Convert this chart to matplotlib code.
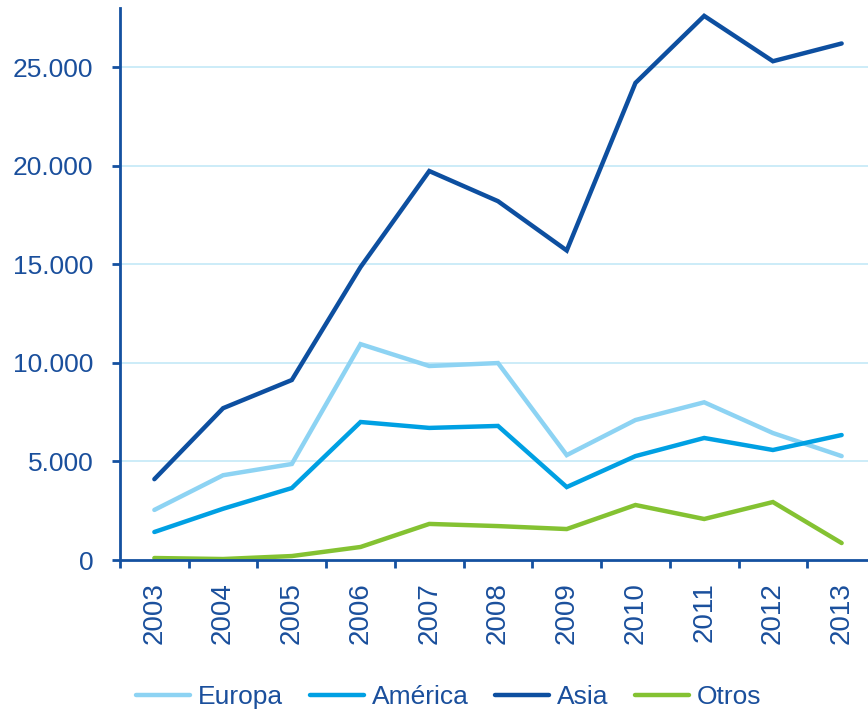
import numpy as np
import matplotlib.pyplot as plt
from matplotlib.ticker import FuncFormatter, FixedLocator

plt.rcParams['font.family'] = ['Liberation Sans', 'DejaVu Sans']

# datos
years = ['2003', '2004', '2005', '2006', '2007', '2008',
         '2009', '2010', '2011', '2012', '2013']
europa = [2540, 4300, 4870, 10950, 9840, 9990, 5320, 7100, 8000, 6440, 5270]
america = [1420, 2600, 3650, 7000, 6700, 6800, 3700, 5270, 6190, 5580, 6340]
asia = [4100, 7700, 9130, 14860, 19730, 18200, 15700, 24200, 27600, 25300, 26200]
otros = [100, 50, 200, 660, 1830, 1720, 1570, 2790, 2080, 2940, 860]

names = ['Europa', 'América', 'Asia', 'Otros']
colors = ['#8dd3f3', '#00a0e3', '#0d4fa0', '#84c232']
series = [europa, america, asia, otros]

txt = '#1a4f9c'
axis_col = '#1451a0'

fig = plt.figure(figsize=(8.68, 7.09), dpi=100)
ax = fig.add_axes([120 / 868, 149 / 709, 756 / 868, 552 / 709])

x = np.arange(len(years))
for vals, name, c in zip(series, names, colors):
    ax.plot(x, vals, color=c, lw=3.2, label=name, solid_capstyle='round',
            solid_joinstyle='miter')

ax.set_xlim(-0.5, len(years) - 0.5)
ax.set_ylim(0, 28000)

# rejilla horizontal
ax.set_yticks(np.arange(0, 25001, 5000))
for v in range(5000, 25001, 5000):
    ax.axhline(v, color='#c8ebf8', lw=1.3, zorder=0)

ax.yaxis.set_major_formatter(FuncFormatter(lambda v, p: f'{int(v):,}'.replace(',', '.')))
ax.tick_params(axis='y', length=6, width=2, color=axis_col, pad=13,
               labelsize=19, labelcolor=txt)

# marcas entre categorías y etiquetas centradas
ax.xaxis.set_major_locator(FixedLocator(np.arange(-0.5, len(years), 1.0)))
ax.xaxis.set_major_formatter(FuncFormatter(lambda v, p: ''))
ax.xaxis.set_minor_locator(FixedLocator(x))
ax.set_xticklabels(years, minor=True, rotation=90, va='top')
ax.tick_params(axis='x', which='major', length=6, width=2, color=axis_col)
ax.tick_params(axis='x', which='minor', length=0, pad=16, labelsize=20,
               labelcolor=txt)

for s in ['top', 'right']:
    ax.spines[s].set_visible(False)
for s in ['left', 'bottom']:
    ax.spines[s].set_color(axis_col)
    ax.spines[s].set_linewidth(2)

fig.legend(loc='center', bbox_to_anchor=(0.517, 0.017), ncol=4, frameon=False,
           fontsize=19, labelcolor=txt, handlelength=2.05, handletextpad=0.3,
           columnspacing=1.0, borderaxespad=0, borderpad=0)

plt.savefig('out.png', dpi=100)
